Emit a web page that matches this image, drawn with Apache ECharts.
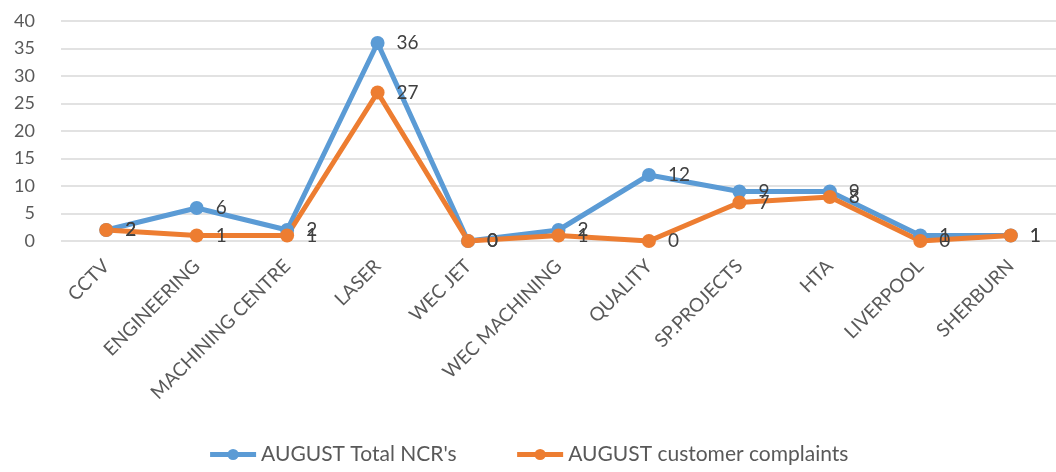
<!DOCTYPE html>
<html>
<head>
<meta charset="utf-8">
<script src="https://cdn.jsdelivr.net/npm/echarts@6/dist/echarts.min.js"></script>
<style>
  html, body { margin: 0; padding: 0; background: #fff; }
  #chart { width: 1056px; height: 472px; }
</style>
</head>
<body>
<div id="chart"></div>
<script>
// 数据
var categories = ['CCTV', 'ENGINEERING', 'MACHINING CENTRE', 'LASER', 'WEC JET', 'WEC MACHINING',
  'QUALITY', 'SP.PROJECTS', 'HTA', 'LIVERPOOL', 'SHERBURN'];
var totalNcr = [2, 6, 2, 36, 0, 2, 12, 9, 9, 1, 1];
var complaints = [2, 1, 1, 27, 0, 1, 0, 7, 8, 0, 1];
var seriesNames = ["AUGUST Total NCR's", 'AUGUST customer complaints'];

var fontFam = 'Lato, "Open Sans", sans-serif';
var myChart = echarts.init(document.getElementById('chart'));

function lineSeries(name, data, color) {
  return {
    name: name,
    type: 'line',
    data: data,
    symbol: 'circle',
    symbolSize: 14,
    lineStyle: { width: 5, color: color },
    itemStyle: { color: color },
    label: {
      show: true,
      position: 'right',
      distance: 12,
      color: '#404040',
      fontSize: 19,
      fontFamily: fontFam
    }
  };
}

var option = {
  animation: false,
  grid: { left: 61, right: 0, top: 21, bottom: 231, containLabel: false },
  legend: {
    bottom: 2,
    left: 'center',
    itemWidth: 46,
    itemHeight: 14,
    itemGap: 58,
    lineStyle: { width: 5 },
    textStyle: { color: '#595959', fontSize: 21, fontFamily: fontFam },
    data: seriesNames
  },
  xAxis: {
    type: 'category',
    data: categories,
    boundaryGap: true,
    axisLine: { show: false },
    axisTick: { show: false },
    axisLabel: {
      rotate: 45,
      interval: 0,
      color: '#595959',
      fontSize: 19,
      fontFamily: fontFam,
      margin: 22
    }
  },
  yAxis: {
    type: 'value',
    min: 0,
    max: 40,
    interval: 5,
    axisLine: { show: false },
    axisTick: { show: false },
    splitLine: { lineStyle: { color: '#d9d9d9', width: 1.5 } },
    axisLabel: { color: '#595959', fontSize: 18, fontFamily: fontFam, margin: 26 }
  },
  series: [
    lineSeries(seriesNames[0], totalNcr, '#5b9bd5'),
    lineSeries(seriesNames[1], complaints, '#ed7d31')
  ]
};

myChart.setOption(option);
</script>
</body>
</html>
